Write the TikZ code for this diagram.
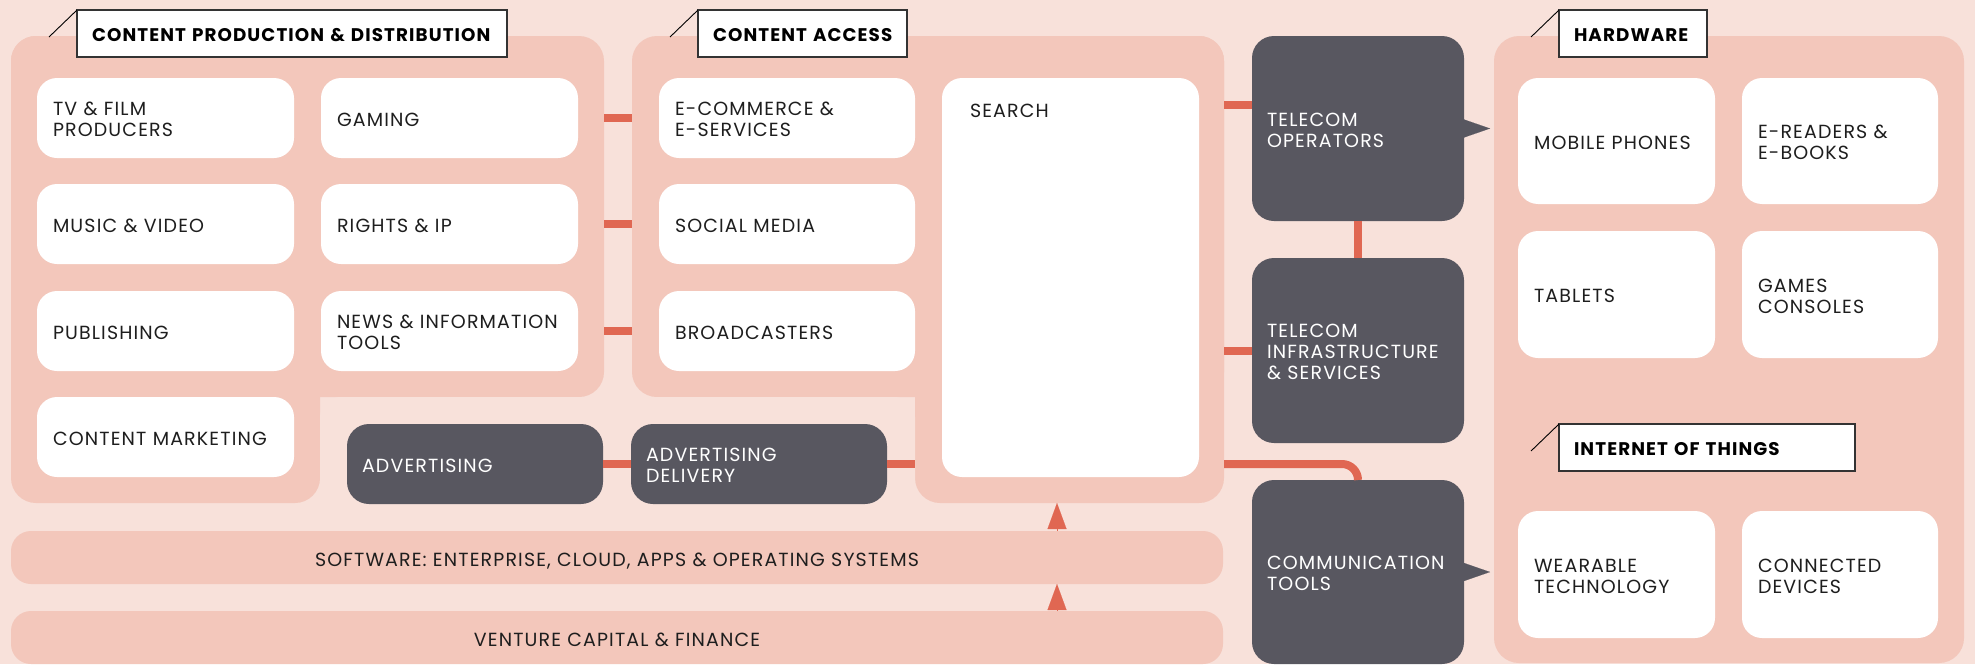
\documentclass[tikz,border=0pt]{standalone}
\usepackage{fontspec}
\setmainfont{Poppins}[LetterSpace=6]
\usetikzlibrary{arrows.meta}

\definecolor{bgc}{HTML}{F8E1DA}
\definecolor{panelc}{HTML}{F3C7BB}
\definecolor{linkc}{HTML}{E06752}
\definecolor{darkc}{HTML}{585760}
\definecolor{inkc}{HTML}{1E1E1E}
\definecolor{tagline}{HTML}{333333}
\newcommand{\bodyfont}{\fontsize{19pt}{21pt}\selectfont}
\newcommand{\tagfont}{\fontsize{18.3pt}{21pt}\selectfont\bfseries}
% a little extra height on the first line sets the labels slightly lower
\newcommand{\firstlift}{\rule{0pt}{16.5pt}}

\begin{document}
\begin{tikzpicture}[x=1pt,y=-1pt,
  every node/.style={inner sep=0pt, outer sep=0pt},
  panel/.style n args={2}{fill=panelc, rounded corners=25pt,
    minimum width=#1pt, minimum height=#2pt},
  wbox/.style n args={2}{fill=white, rounded corners=20pt, text width=#1pt,
    minimum height=#2pt, inner xsep=16pt, align=left, font=\bodyfont, text=inkc,
    execute at begin node=\firstlift},
  dbox/.style n args={2}{fill=darkc, rounded corners=22pt, text width=#1pt,
    minimum height=#2pt, inner xsep=15pt, align=left, font=\bodyfont, text=white,
    execute at begin node=\firstlift},
  tagbox/.style={fill=white, draw=tagline, line width=1.3pt, text width=#1pt,
    minimum height=47pt, inner xsep=15pt, align=left, font=\tagfont, text=black,
    execute at begin node=\firstlift},
  bar/.style={fill=panelc, rounded corners=20pt, minimum width=1212pt,
    minimum height=53pt, font=\bodyfont, text=inkc, text height=17pt, text depth=0pt},
  link/.style={draw=linkc, line width=8pt},
  uparrow/.style={draw=linkc, line width=0.1pt, -{Triangle[width=19pt,length=26pt]}},
  pointer/.style={draw=darkc, line width=0.1pt, -{Triangle[width=18pt,length=26pt]}, shorten >=4pt},
  slant/.style={draw=black, line width=0.9pt}
]
% page background
\fill[bgc] (0,0) rectangle (1975,664);
\useasboundingbox (0,0) rectangle (1975,664);

% group panels
\node[panel={593}{361}] (panelA) at (307.5,216.5) {};
\node[panel={309}{467}] (panelAlow) at (165.5,269.5) {};
\node[panel={592}{361}] (panelB) at (928,216.5) {};
\node[panel={309}{467}] (panelBlow) at (1069.5,269.5) {};
\node[panel={470}{627}] (hw) at (1729,349.5) {};
% open area between the two L-shaped panels
\node[fill=bgc, rounded corners=20pt, minimum width=595pt, minimum height=133pt]
  (adarea) at (617.5,463.5) {};

% bottom bars
\node[bar] (soft) at (617,557.5) {SOFTWARE: ENTERPRISE, CLOUD, APPS \& OPERATING SYSTEMS};
\node[bar] (vc) at (617,637.5) {VENTURE CAPITAL \& FINANCE};

% content production & distribution
\node[wbox={225}{80}] (tv) at (165.5,118) {TV \& FILM\\PRODUCERS};
\node[wbox={225}{80}] (gaming) at (449.5,118) {GAMING};
\node[wbox={225}{80}] (music) at (165.5,224) {MUSIC~\&~VIDEO};
\node[wbox={225}{80}] (rights) at (449.5,224) {RIGHTS \& IP};
\node[wbox={225}{80}] (publishing) at (165.5,331) {PUBLISHING};
\node[wbox={225}{80}] (news) at (449.5,331) {NEWS~\&~INFORMATION\\TOOLS};
\node[wbox={225}{80}] (cmark) at (165.5,437) {CONTENT~MARKETING};

% content access
\node[wbox={224}{80}] (ecom) at (787,118) {E-COMMERCE~\&\\E-SERVICES};
\node[wbox={224}{80}] (social) at (787,224) {SOCIAL MEDIA};
\node[wbox={224}{80}] (broad) at (787,331) {BROADCASTERS};
\node[wbox={225}{399}] (search) at (1070.5,277.5) {};
\node[font=\bodyfont, text=inkc, anchor=west] (searchlbl)
  at ([xshift=28pt,yshift=-33pt]search.north west) {SEARCH};

% advertising chain
\node[dbox={226}{80}] (adv) at (475,464) {ADVERTISING};
\node[dbox={226}{80}] (advd) at (759,464) {ADVERTISING\\DELIVERY};

% telecom column
\node[dbox={182}{185}] (telops) at (1358,128.5) {TELECOM\\OPERATORS};
\node[dbox={182}{185}] (telinf) at (1358,350.5) {TELECOM\\INFRASTRUCTURE\\\&~SERVICES};
\node[dbox={182}{184}] (comm) at (1358,572) {COMMUNICATION\\TOOLS};

% hardware and internet of things
\node[wbox={165}{126}] (mob) at (1616.5,141) {MOBILE~PHONES};
\node[wbox={164}{126}] (ered) at (1840,141) {E-READERS~\&\\E-BOOKS};
\node[wbox={165}{127}] (tab) at (1616.5,294.5) {TABLETS};
\node[wbox={164}{127}] (games) at (1840,294.5) {GAMES\\CONSOLES};
\node[wbox={165}{127}] (wear) at (1616.5,574.5) {WEARABLE\\TECHNOLOGY};
\node[wbox={164}{127}] (conn) at (1840,574.5) {CONNECTED\\DEVICES};

% section tags
\node[tagbox=400] (tagA) at (292,33.5) {CONTENT PRODUCTION \& DISTRIBUTION};
\node[tagbox=179] (tagB) at (802.5,33.5) {CONTENT ACCESS};
\node[tagbox=118] (tagHW) at (1633,33.5) {HARDWARE};
\node[tagbox=266] (tagIoT) at (1707,447.5) {INTERNET OF THINGS};
\draw[slant] (tagA.north west) -- ++(-28,27);
\draw[slant] (tagB.north west) -- ++(-28,27);
\draw[slant] (tagHW.north west) -- ++(-28,27);
\draw[slant] (tagIoT.north west) -- ++(-28,27);

% links
\draw[link] (panelA.east |- gaming.east) -- (panelB.west |- ecom.west);
\draw[link] (panelA.east |- rights.east) -- (panelB.west |- social.west);
\draw[link] (panelA.east |- news.east) -- (panelB.west |- broad.west);
\coordinate (opsin) at ([yshift=23.5pt]telops.west);
\draw[link] (panelB.east |- opsin) -- (opsin);
\draw[link] (panelB.east |- telinf.west) -- (telinf.west);
\draw[link] (telops.south) -- (telinf.north);
\draw[link] (adv.east) -- (advd.west);
\draw[link] (advd.east) -- (advd.east -| panelBlow.west);
\draw[link, rounded corners=16pt] (panelBlow.east |- advd.east) -| (comm.north);

% upward arrows through the bars
\coordinate (arrx) at (1057,0);
\draw[uparrow] (vc.north -| arrx) -- (soft.south -| arrx);
\draw[uparrow] (soft.north -| arrx) -- (panelBlow.south -| arrx);

% pointers into the hardware panel
\draw[pointer] (telops.east) -- (telops.east -| hw.west);
\draw[pointer] (comm.east) -- (comm.east -| hw.west);
\end{tikzpicture}
\end{document}
